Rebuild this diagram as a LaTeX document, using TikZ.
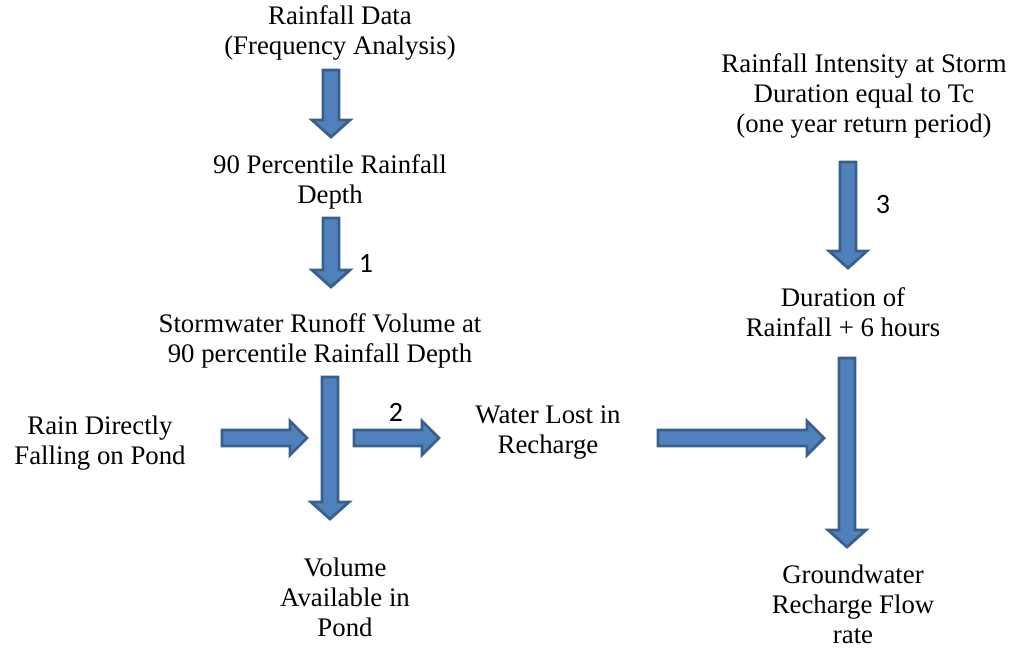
\documentclass[tikz,border=0pt]{standalone}
\usepackage{fontspec}
\setmainfont{Liberation Serif}
\newfontfamily\numfont{Carlito}
\usepackage{tikz}

\definecolor{arrowfill}{HTML}{4F81BD}
\definecolor{arrowline}{HTML}{3A5F8B}

\tikzset{
  txt/.style={align=center, inner sep=0pt, font=\fontsize{13.4}{15}\selectfont},
  num/.style={inner sep=0pt, font=\numfont\fontsize{14}{16}\selectfont},
  blockarrow/.style={fill=arrowfill, draw=arrowline, line width=1.4pt, line join=miter},
  pics/downarrow/.style={code={
    \draw[blockarrow] (-8,0) -- (8,0) -- (8,#1-17) -- (19,#1-17) -- (0,#1)
      -- (-19,#1-17) -- (-8,#1-17) -- cycle;}},
  pics/rightarrow/.style={code={
    \draw[blockarrow] (0,-8) -- (0,8) -- (#1-17,8) -- (#1-17,17) -- (#1,0)
      -- (#1-17,-17) -- (#1-17,-8) -- cycle;}}
}

\begin{document}
\begin{tikzpicture}[x=0.5pt, y=-0.5pt]
    \useasboundingbox (0,0) rectangle (1010,648);

    % Left column
    \node[txt] (data) at (340,33) {Rainfall Data\\(Frequency Analysis)};
    \node[txt] (pct) at (330,182) {90 Percentile Rainfall\\Depth};
    \node[txt] (runoff) at (320,341) {Stormwater Runoff Volume at\\90 percentile Rainfall Depth};
    \node[txt] (rain) at (100,443) {Rain Directly\\Falling on Pond};
    \node[txt] (vol) at (345,597) {Volume\\Available in\\Pond};

    % Middle
    \node[txt] (lost) at (548,433) {Water Lost in\\Recharge};

    % Right column
    \node[txt] (inten) at (864,96) {Rainfall Intensity at Storm\\Duration equal to Tc\\(one year return period)};
    \node[txt] (dur) at (843,312) {Duration of\\Rainfall + 6 hours};
    \node[txt] (gw) at (853,604) {Groundwater\\Recharge Flow\\rate};

    % Block arrows
    \pic at (331,70) {downarrow=67};
    \pic at (331,218) {downarrow=69};
    \pic at (330,377) {downarrow=142};
    \pic at (222,438) {rightarrow=85};
    \pic at (354,438) {rightarrow=85};
    \pic at (658,438) {rightarrow=166};
    \pic at (848,162) {downarrow=106};
    \pic at (847,358) {downarrow=189};

    % Step numbers
    \node[num] (n1) at (366,263) {1};
    \node[num] (n2) at (396,412) {2};
    \node[num] (n3) at (883,205) {3};

\end{tikzpicture}
\end{document}
